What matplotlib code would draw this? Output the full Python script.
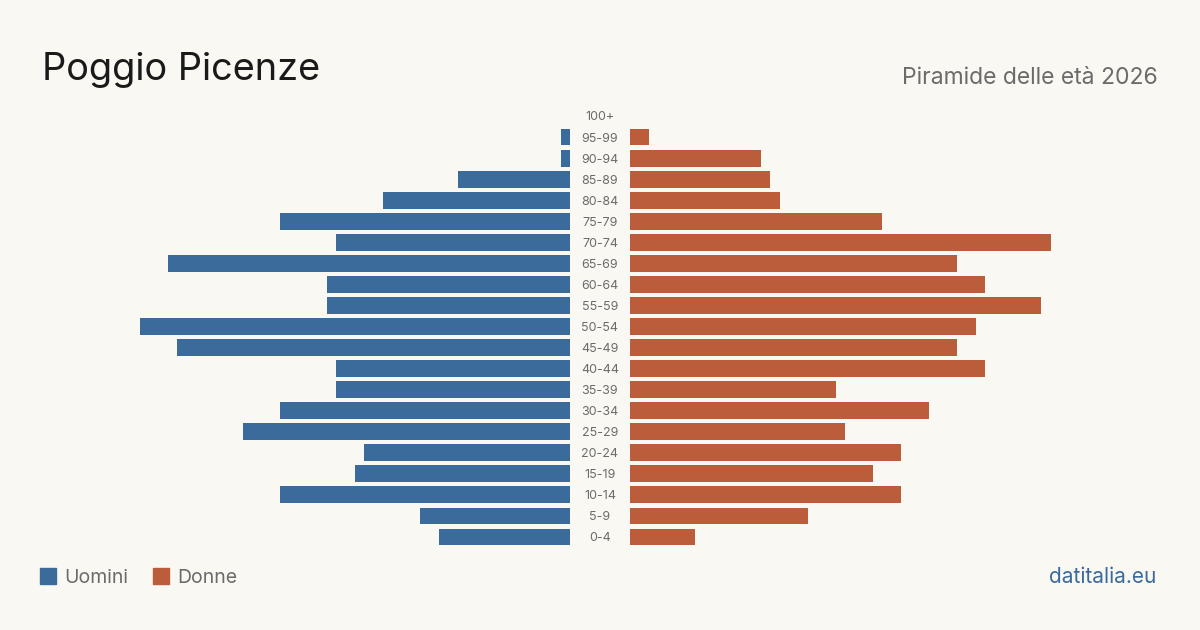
import numpy as np
import matplotlib.pyplot as plt
from matplotlib.patches import Rectangle

plt.rcParams['font.family'] = ['Inter', 'DejaVu Sans']

# fasce d'età (dall'alto verso il basso)
eta = ['100+', '95-99', '90-94', '85-89', '80-84', '75-79', '70-74', '65-69',
       '60-64', '55-59', '50-54', '45-49', '40-44', '35-39', '30-34', '25-29',
       '20-24', '15-19', '10-14', '5-9', '0-4']
uomini = [0, 1, 1, 12, 20, 31, 25, 43, 26, 26, 46, 42, 25, 25, 31, 35, 22, 23, 31, 16, 14]
donne = [0, 2, 14, 15, 16, 27, 45, 35, 38, 44, 37, 35, 38, 22, 32, 23, 29, 26, 29, 19, 7]

BG = '#faf8f3'
BLU = '#3b6b9b'
ARANCIO = '#bb5c3b'
W, H = 1200, 630

fig = plt.figure(figsize=(12, 6.3), dpi=100, facecolor=BG)

def px(x, y):
    return x / W, 1 - y / H

scala = 9.35  # pixel per persona
larg = 470
xmax = larg / scala
top, bottom = 105.5, 547.5
ax_b = 1 - bottom / H
ax_h = (bottom - top) / H

ax_u = fig.add_axes([(570 - larg) / W, ax_b, larg / W, ax_h])
ax_d = fig.add_axes([630 / W, ax_b, larg / W, ax_h])

y = np.arange(len(eta))
for ax, val, col in [(ax_u, uomini, BLU), (ax_d, donne, ARANCIO)]:
    ax.barh(y, val, height=0.8, color=col)
    ax.set_ylim(len(eta) - 0.5, -0.5)
    ax.axis('off')
    ax.set_facecolor('none')
ax_u.set_xlim(xmax, 0)
ax_d.set_xlim(0, xmax)

# etichette centrali
for i, lab in enumerate(eta):
    yy = 116 + i * (bottom - top) / len(eta) + 1.5
    fig.text(*px(600, yy), lab, ha='center', va='center', fontsize=9, color='#6b6b6b')

# titolo e sottotitolo
fig.text(*px(42, 80), 'Poggio Picenze', fontsize=27.3, color='#1a1a1a', va='baseline')
fig.text(*px(1158, 84), 'Piramide delle età 2026', fontsize=16.5, color='#6b6b6b',
         ha='right', va='baseline')

# legenda
for x0, col, lab in [(40, BLU, 'Uomini'), (153, ARANCIO, 'Donne')]:
    fig.patches.append(Rectangle(px(x0, 584), 16 / W, 16 / H, transform=fig.transFigure,
                                 color=col))
    fig.text(*px(x0 + 24, 583), lab, fontsize=14, color='#6b6b6b', va='baseline')

fig.text(*px(1156, 583), 'datitalia.eu', fontsize=15, color=BLU, ha='right', va='baseline')

fig.savefig('out.png', dpi=100, facecolor=BG)
